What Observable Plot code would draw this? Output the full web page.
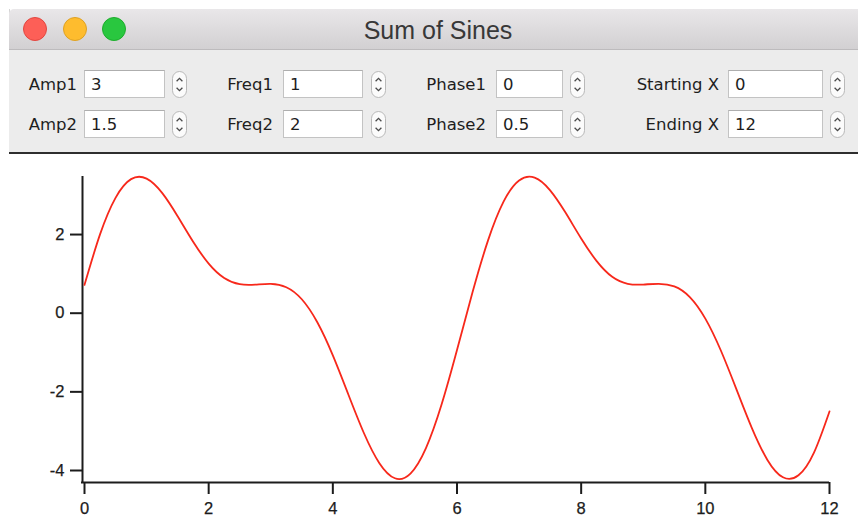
<!DOCTYPE html>
<html><head><meta charset="utf-8">
<script src="https://cdn.jsdelivr.net/npm/d3@7"></script>
<script src="https://cdn.jsdelivr.net/npm/@observablehq/plot@0.6"></script>
<style>
html,body{margin:0;padding:0;background:#fff;width:858px;height:518px;overflow:hidden;position:relative;}
#titlebar{position:absolute;left:9px;top:9px;width:849px;height:41px;background:linear-gradient(#e9e7e9,#d2d0d2);border-bottom:1px solid #bdbbbd;border-top-left-radius:5px;box-sizing:border-box;}
#title{position:absolute;left:0;top:9px;width:876px;text-align:center;height:41px;line-height:42px;font-family:"Liberation Sans",Arial,sans-serif;font-size:25px;color:#383838;}
.light{position:absolute;width:24px;height:24px;border-radius:12px;top:17px;box-sizing:border-box;}
#controls{position:absolute;left:9px;top:50px;width:849px;height:102px;background:#ececec;}
#sep{position:absolute;left:9px;top:152px;width:849px;height:2px;background:#2e2e2e;}
#leftborder{position:absolute;left:9px;top:9px;width:1px;height:145px;background:#d4d4d4;}
.lbl{position:absolute;font-family:"DejaVu Sans",sans-serif;font-size:16.5px;color:#1e1e1e;height:28px;line-height:30px;white-space:nowrap;}
.fld{position:absolute;background:#fff;border:1px solid #c3c3c3;border-top-color:#aeaeae;box-sizing:border-box;height:28px;font-family:"DejaVu Sans",sans-serif;font-size:16.5px;color:#1e1e1e;line-height:27px;padding-left:6px;}
.stp{position:absolute;}
#chart{position:absolute;left:0;top:155px;}
#chart svg text{font-size:16.5px !important;font-family:"Liberation Sans",Arial,sans-serif !important;stroke:#1c1c1c;stroke-width:0.25px;}
</style></head>
<body>
<div id="leftborder"></div>
<div id="titlebar"></div>
<div id="title">Sum of Sines</div>
<div class="light" style="left:23px;background:#fd5f57;border:1px solid #e2463f;"></div>
<div class="light" style="left:63px;background:#febc2e;border:1px solid #dea123;"></div>
<div class="light" style="left:102px;background:#29c73f;border:1px solid #1dad2c;"></div>
<div id="controls"></div>
<div id="sep"></div>
<div id="chart"></div>
<script>
// Control panel contents
const controlLabels = [["Amp1","Amp2"],["Freq1","Freq2"],["Phase1","Phase2"],["Starting X","Ending X"]];
const controlValues = [["3","1.5"],["1","2"],["0","0.5"],["0","12"]];

// Curve
const xValues = [0,0.25,0.5,0.75,1,1.25,1.5,1.75,2,2.25,2.5,2.75,3,3.25,3.5,3.75,4,4.25,4.5,4.75,5,5.25,5.5,5.75,6,6.25,6.5,6.75,7,7.25,7.5,7.75,8,8.25,8.5,8.75,9,9.25,9.5,9.75,10,10.25,10.5,10.75,11,11.25,11.5,11.75,12];
const yValues = [0.719,2.004,2.934,3.409,3.422,3.059,2.466,1.817,1.262,0.896,0.737,0.726,0.746,0.661,0.355,-0.231,-1.072,-2.067,-3.046,-3.814,-4.197,-4.077,-3.430,-2.330,-0.937,0.530,1.851,2.836,3.373,3.446,3.124,2.552,1.900,1.325,0.926,0.747,0.729,0.747,0.682,0.411,-0.137,-0.949,-1.932,-2.923,-3.731,-4.173,-4.122,-3.544,-2.497];
const xTicks = [0,2,4,6,8,10,12];
const yTicks = [-4,-2,0,2];

// layout of control columns (pixels)
const cols = [
  {labelRight:77, field:[84,81], step:172},
  {labelRight:273, field:[283,80], step:371},
  {labelRight:486, field:[496,67], step:570},
  {labelRight:719, field:[728,95], step:830}
];
const rowsTop = [70,110];
const stepperSVG = '<svg width="15" height="27" viewBox="0 0 15 27"><rect x="0.5" y="0.5" width="14" height="26" rx="7" fill="#fbfbfb" stroke="#b9b9b9"/><path d="M4.6 10.2 L7.5 7.3 L10.4 10.2" fill="none" stroke="#4a4a4a" stroke-width="1.3"/><path d="M4.6 16.8 L7.5 19.7 L10.4 16.8" fill="none" stroke="#4a4a4a" stroke-width="1.3"/></svg>';
cols.forEach((c,ci)=>{
  rowsTop.forEach((t,ri)=>{
    const l = document.createElement("div");
    l.className="lbl"; l.textContent=controlLabels[ci][ri];
    l.style.right=(858-c.labelRight)+"px"; l.style.top=t+"px";
    document.body.appendChild(l);
    const f = document.createElement("div");
    f.className="fld"; f.textContent=controlValues[ci][ri];
    f.style.left=c.field[0]+"px"; f.style.width=c.field[1]+"px"; f.style.top=t+"px";
    document.body.appendChild(f);
    const s = document.createElement("div");
    s.className="stp"; s.innerHTML=stepperSVG;
    s.style.left=c.step+"px"; s.style.top=(t+1)+"px";
    document.body.appendChild(s);
  });
});

const data = xValues.map((x,i)=>({x, y:yValues[i]}));
const yMin = -4.305, yMax = 3.476;
const ink = "#1c1c1c";
const plot = Plot.plot({
  width: 858, height: 363,
  marginLeft: 84, marginRight: 29, marginTop: 21, marginBottom: 36,
  style: {fontFamily: "'Liberation Sans', Arial, sans-serif", fontSize: "16.5px", color: ink, background: "transparent", overflow: "visible"},
  x: {domain: [0,12]},
  y: {domain: [yMin, yMax]},
  marks: [
    Plot.axisY(yTicks, {tickSize: 12, tickPadding: 6, dx: -2, strokeWidth: 2, stroke: ink, fill: ink, label: null, tickFormat: d => String(d)}),
    Plot.axisX(xTicks, {tickSize: 12, tickPadding: 8, strokeWidth: 2, stroke: ink, fill: ink, label: null, tickFormat: d => String(d)}),
    Plot.ruleX([0], {dx: -2, strokeWidth: 2, stroke: ink}),
    Plot.ruleY([yMin], {strokeWidth: 2, stroke: ink, insetLeft: -3}),
    Plot.line(data, {x: "x", y: "y", stroke: "#f7281b", strokeWidth: 1.8, curve: "natural"})
  ]
});
d3.select(plot).selectAll("text").attr("font-size", "16.5px").style("font-size", "16.5px");
document.getElementById("chart").appendChild(plot);
</script>
</body></html>
